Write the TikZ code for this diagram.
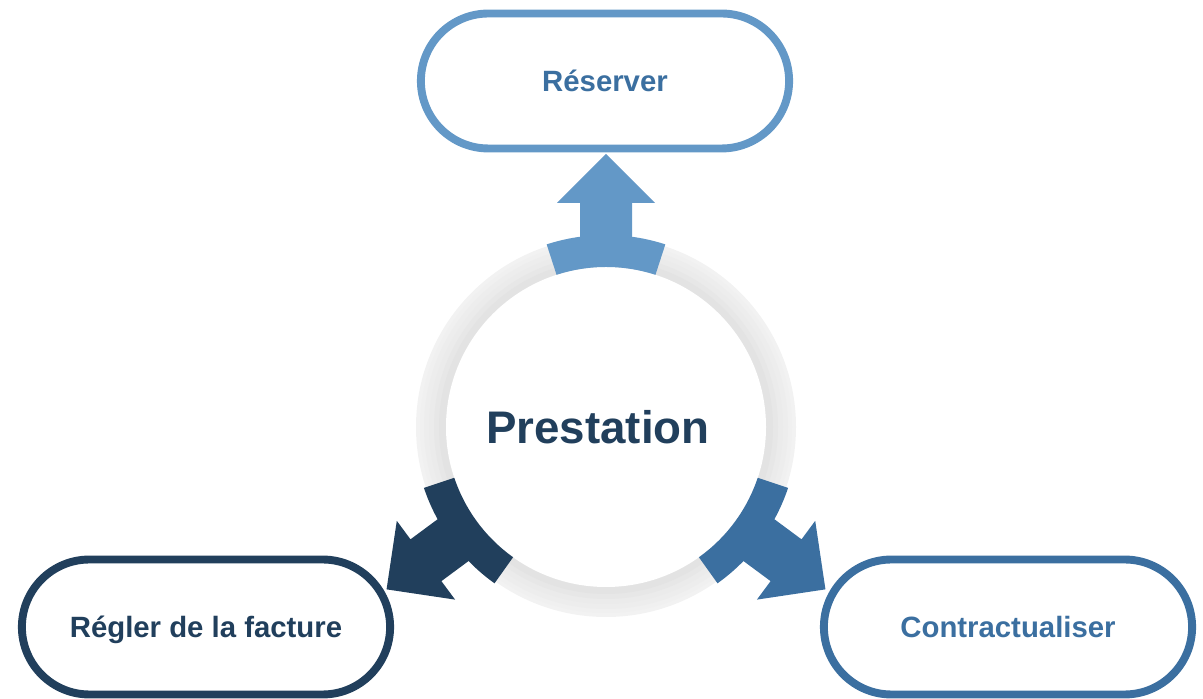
\documentclass[tikz,border=0pt]{standalone}
\usepackage{fontspec}
\setmainfont{Liberation Sans}
\usetikzlibrary{shapes.misc}
\definecolor{lightblue}{HTML}{6398C7}
\definecolor{midblue}{HTML}{3B6FA0}
\definecolor{darkblue}{HTML}{213F5C}
\tikzset{
  pill/.style={rounded rectangle, draw, fill=white, line width=4.5pt,
    minimum width=7.6cm, minimum height=2.7cm,
    text height=16pt, text depth=3.5pt,
    font=\fontsize{16.7}{20}\selectfont\bfseries},
}
\begin{document}
\begin{tikzpicture}[x=0.02cm,y=0.02cm]
\useasboundingbox (0,0) rectangle (1203,699);
\coordinate (c) at (606,272);
\foreach \r/\g in {190/5,186/6,182/7,177/8,172/9.5,167/11}
  \fill[black!\g] (c) circle [radius=\r];
\fill[white] (c) circle [radius=160];
\foreach \a/\col in {90/lightblue,216.5/darkblue,323.5/midblue}{
  \begin{scope}[shift={(c)},rotate=\a]
  \fill[\col] (-18:160) arc (-18:18:160) -- (18:192) arc (18:-18:192) -- cycle;
  \fill[\col] (185,-26) -- (224,-26) -- (224,-49) -- (273,0) -- (224,49) -- (224,26) -- (185,26) -- cycle;
  \end{scope}
}
\node[text=darkblue,font=\fontsize{26}{30}\selectfont\bfseries] (prest) at (598,272) {Prestation};
\node[pill,draw=lightblue,text=midblue] (reserver) at (605,618) {Réserver};
\node[pill,draw=darkblue,text=darkblue] (regler) at (206,72) {Régler de la facture};
\node[pill,draw=midblue,text=midblue] (contrat) at (1008,72) {Contractualiser};
\end{tikzpicture}
\end{document}
